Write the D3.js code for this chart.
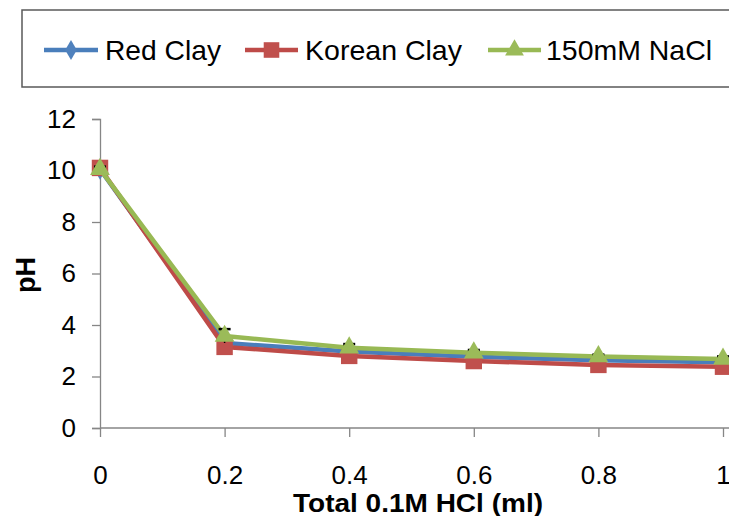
<!DOCTYPE html>
<html><head><meta charset="utf-8">
<script src="https://cdn.jsdelivr.net/npm/d3@7"></script>
<style>body{margin:0;background:#fff}svg{display:block}</style>
</head><body>
<svg id="c" width="729" height="516"></svg>
<script>
const xValues = [0, 0.2, 0.4, 0.6, 0.8, 1];
const seriesNames = ["Red Clay", "Korean Clay", "150mM NaCl"];
const redClay = [10.05, 3.3, 2.97, 2.77, 2.63, 2.55];
const koreanClay = [10.1, 3.15, 2.8, 2.6, 2.45, 2.38];
const nacl = [10.05, 3.57, 3.12, 2.92, 2.78, 2.68];
const naclErr = [0.1, 0.27, 0.14, 0.11, 0.07, 0.1];
const yTicks = [0, 2, 4, 6, 8, 10, 12];
const xTicks = [0, 0.2, 0.4, 0.6, 0.8, 1];
const xTitle = "Total 0.1M HCl (ml)";
const yTitle = "pH";

const FONT = "'Liberation Sans', Arial, sans-serif";
const svg = d3.select("#c");
const x = d3.scaleLinear().domain([0, 1]).range([100, 723]);
const y = d3.scaleLinear().domain([0, 12]).range([428, 119]);

const styles = [
  {name: seriesNames[0], data: redClay, line: "#4A7EBB", fill: "#4F81BD", sym: d3.symbolDiamond, size: 130},
  {name: seriesNames[1], data: koreanClay, line: "#BE4B48", fill: "#C0504D", sym: d3.symbolSquare, size: 270},
  {name: seriesNames[2], data: nacl, line: "#98B954", fill: "#9BBB59", sym: d3.symbolTriangle, size: 170}
];

// axes
const gy = svg.append("g").attr("transform", "translate(100,0)")
  .call(d3.axisLeft(y).tickValues(yTicks).tickSize(8).tickPadding(16).tickFormat(d3.format("d")));
const gx = svg.append("g").attr("transform", "translate(0,428)")
  .call(d3.axisBottom(x).tickValues(xTicks).tickSize(9).tickPadding(29).tickFormat(d => d === 0 || d === 1 ? d3.format("d")(d) : d3.format(".1f")(d)));
gx.select(".domain").attr("d", "M100,0H729");
[gx, gy].forEach(g => {
  g.selectAll("path,line").attr("stroke", "#868686").attr("stroke-width", 1.3);
  g.selectAll("text").attr("font-family", FONT).attr("font-size", 26).attr("fill", "#000");
});

// lines and markers
const line = d3.line().x((d, i) => x(xValues[i])).y(d => y(d));
styles.forEach((s, k) => {
  svg.append("path").datum(s.data).attr("d", line)
    .attr("fill", "none").attr("stroke", s.line).attr("stroke-width", 4.5).attr("stroke-linejoin", "round");
  if (k === 2) {
    const eg = svg.append("g");
    s.data.forEach((v, i) => {
      eg.append("line").attr("x1", x(xValues[i])).attr("x2", x(xValues[i]))
        .attr("y1", y(v - naclErr[i])).attr("y2", y(v + naclErr[i])).attr("stroke", "#000").attr("stroke-width", 1.5);
      eg.append("line").attr("x1", x(xValues[i]) - 6).attr("x2", x(xValues[i]) + 6)
        .attr("y1", y(v + naclErr[i])).attr("y2", y(v + naclErr[i])).attr("stroke", "#000").attr("stroke-width", 2.5);
    });
  }
  svg.append("g").selectAll("path").data(s.data).join("path")
    .attr("transform", (d, i) => `translate(${x(xValues[i])},${y(d)})`)
    .attr("d", d3.symbol().type(s.sym).size(s.size))
    .attr("fill", s.fill);
});

// axis titles
svg.append("text").attr("x", 418).attr("y", 512).attr("text-anchor", "middle")
  .attr("font-family", FONT).attr("font-weight", "bold").attr("font-size", 25)
  .attr("textLength", 250).attr("lengthAdjust", "spacingAndGlyphs").text(xTitle);
svg.append("text").attr("transform", "translate(35,275) rotate(-90)").attr("text-anchor", "middle")
  .attr("font-family", FONT).attr("font-weight", "bold").attr("font-size", 27).text(yTitle);

// legend
svg.append("rect").attr("x", 22).attr("y", 10).attr("width", 740).attr("height", 77)
  .attr("fill", "#fff").attr("stroke", "#595959").attr("stroke-width", 1.5);
const legX = [[44, 98, 105, 116], [245, 298, 305, 157], [488, 541, 546, 166]];
styles.forEach((s, k) => {
  const [a, b, t, w] = legX[k];
  svg.append("line").attr("x1", a).attr("x2", b).attr("y1", 50).attr("y2", 50)
    .attr("stroke", s.line).attr("stroke-width", 4.5);
  svg.append("path").attr("transform", `translate(${(a + b) / 2},50)`)
    .attr("d", d3.symbol().type(s.sym).size(s.size * 0.9)).attr("fill", s.fill);
  svg.append("text").attr("x", t).attr("y", 60).attr("font-family", FONT).attr("font-size", 28.5)
    .attr("textLength", w).attr("lengthAdjust", "spacingAndGlyphs").text(s.name);
});
</script>
</body></html>
